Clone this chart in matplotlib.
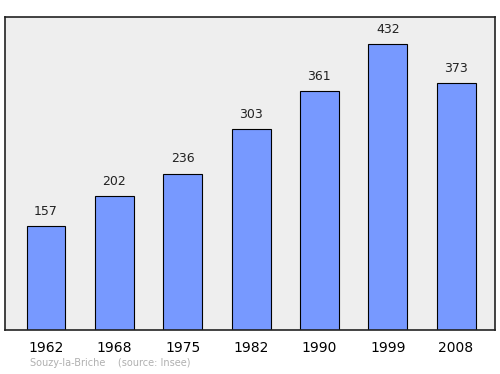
import matplotlib
matplotlib.use("Agg")
import matplotlib.pyplot as plt

years = ["1962", "1968", "1975", "1982", "1990", "1999", "2008"]
population = [157, 202, 236, 303, 361, 432, 373]

fig = plt.figure(figsize=(5.0, 3.74), dpi=100)
ax = fig.add_axes([0.01, 0.1176, 0.98, 0.837])
ax.set_facecolor("#eeeeee")
x = list(range(len(years)))
ax.bar(x, population, width=0.57, color="#7799ff", edgecolor="black", linewidth=0.8, zorder=2)
for xi, v in zip(x, population):
    ax.annotate(str(v), (xi, v), xytext=(0, 6), textcoords="offset points",
                ha="center", va="bottom", fontsize=9, color="#222222")
ax.set_xlim(-0.6, 6.57)
ax.set_ylim(0, 473)
ax.set_xticks(x)
ax.set_xticklabels(years, fontsize=10)
ax.tick_params(axis="x", length=0, pad=8)
ax.set_yticks([])
for s in ax.spines.values():
    s.set_linewidth(1.2)
    s.set_color("#222222")
fig.text(0.06, 0.015, "Souzy-la-Briche    (source: Insee)", fontsize=7, color="#b0b0b0", ha="left", va="bottom")
fig.savefig("out.png", dpi=100)
